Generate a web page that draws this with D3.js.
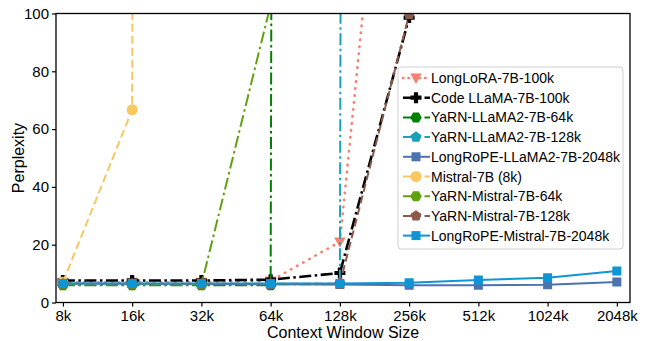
<!DOCTYPE html>
<html lang="en">
<head>
<meta charset="UTF-8">
<title>Perplexity vs context window</title>
<script src="https://cdn.jsdelivr.net/npm/d3@7"></script>
<style>
  body { margin: 0; background: #fff; }
  svg { font-family: "Liberation Sans", Arial, sans-serif; }
</style>
</head>
<body>
<script>
  // context sizes (k tokens)
  const contexts = [8, 16, 32, 64, 128, 256, 512, 1024, 2048];
  const tickLabels = ["8k", "16k", "32k", "64k", "128k", "256k", "512k", "1024k", "2048k"];
  const yTicks = [0, 20, 40, 60, 80, 100];

  // perplexity per model (huge values run off the top)
  const longLora = [7.0, 7.0, 7.0, 7.5, 21, 260];
  const codeLlama = [7.6, 7.6, 7.6, 7.9, 10.2, 98.6];
  const yarnLlama64 = [6.0, 6.0, 6.0, 6.0, 10000];
  const yarnLlama128 = [6.3, 6.3, 6.3, 6.3, 6.3, 10000];
  const longropeLlama = [6.6, 6.5, 6.4, 6.3, 6.2, 6.0, 6.0, 6.1, 7.1];
  const mistral = [7.0, 66.7, 10000];
  const yarnMistral64 = [6.2, 6.2, 6.2, 103];
  const yarnMistral128 = [6.5, 6.5, 6.5, 6.5, 6.5, 99.6];
  const longropeMistral = [6.6, 6.6, 6.6, 6.6, 6.6, 6.8, 7.8, 8.6, 10.9];

  const DOT = "0.5,6.5", DASH = "8,4", DASHDOT = "12,3.5,2.5,3.5";

  const series = [
    { name: "LongLoRA-7B-100k", values: longLora, color: "#fa8072", dash: DOT, width: 2.6, marker: "triDown" },
    { name: "Code LLaMA-7B-100k", values: codeLlama, color: "#000000", dash: DASHDOT, width: 2.6, marker: "plus" },
    { name: "YaRN-LLaMA2-7B-64k", values: yarnLlama64, color: "#008000", dash: DASHDOT, width: 2, marker: "hex" },
    { name: "YaRN-LLaMA2-7B-128k", values: yarnLlama128, color: "#17a2b8", dash: DASHDOT, width: 2, marker: "pent" },
    { name: "LongRoPE-LLaMA2-7B-2048k", values: longropeLlama, color: "#4c72b0", dash: null, width: 2, marker: "square" },
    { name: "Mistral-7B (8k)", values: mistral, color: "#f6c85f", dash: DASH, width: 2, marker: "circle" },
    { name: "YaRN-Mistral-7B-64k", values: yarnMistral64, color: "#5fa10e", dash: DASHDOT, width: 2, marker: "hex" },
    { name: "YaRN-Mistral-7B-128k", values: yarnMistral128, color: "#8c5a4b", dash: DASH, width: 2, marker: "pent" },
    { name: "LongRoPE-Mistral-7B-2048k", values: longropeMistral, color: "#0f95d3", dash: null, width: 2, marker: "square" }
  ];

  const W = 646, H = 341;
  const plot = { left: 56, right: 630, top: 13.5, bottom: 302.5 };

  const svg = d3.select("body").append("svg")
    .attr("width", W)
    .attr("height", H);

  // log2 x axis, a little padding each side like matplotlib
  const x = d3.scaleLog().base(2)
    .domain([8 * Math.pow(2, -0.1), 8 * Math.pow(2, 8.19)])
    .range([plot.left, plot.right]);
  const y = d3.scaleLinear().domain([0, 100]).range([plot.bottom, plot.top]);

  svg.append("defs").append("clipPath").attr("id", "clip")
    .append("rect")
    .attr("x", plot.left).attr("y", plot.top)
    .attr("width", plot.right - plot.left).attr("height", plot.bottom - plot.top);

  function markerPath(type, s) {
    const r = s / 2;
    if (type === "circle") return d3.symbol(d3.symbolCircle, Math.PI * r * r)();
    if (type === "square") return `M${-r},${-r}H${r}V${r}H${-r}Z`;
    if (type === "triDown") return `M${-r * 1.05},${-r * 0.8}L${r * 1.05},${-r * 0.8}L0,${r * 1.1}Z`;
    if (type === "plus") {
      const a = r * 0.38;
      return `M${-a},${-r}H${a}V${-a}H${r}V${a}H${a}V${r}H${-a}V${a}H${-r}V${-a}H${-a}Z`;
    }
    const n = type === "hex" ? 6 : 5;
    const pts = d3.range(n).map(i => {
      const ang = -Math.PI / 2 + i * 2 * Math.PI / n + (n === 6 ? Math.PI / 6 : 0);
      return [Math.cos(ang) * r * 1.05, Math.sin(ang) * r * 1.05];
    });
    return "M" + pts.map(p => p.join(",")).join("L") + "Z";
  }

  const line = d3.line()
    .x(d => x(d.c))
    .y(d => y(d.v));

  const g = svg.append("g").attr("clip-path", "url(#clip)");

  series.forEach(s => {
    const pts = s.values.map((v, i) => ({ c: contexts[i], v: v }));
    g.append("path")
      .datum(pts)
      .attr("d", line)
      .attr("fill", "none")
      .attr("stroke", s.color)
      .attr("stroke-width", s.width)
      .attr("stroke-dasharray", s.dash)
      .attr("stroke-linecap", s.dash === DOT ? "round" : "butt");
    g.selectAll(null)
      .data(pts.filter(d => d.v <= 110))
      .enter().append("path")
      .attr("transform", d => `translate(${x(d.c)},${y(d.v)})`)
      .attr("d", markerPath(s.marker, s.marker === "square" ? 9 : 11))
      .attr("fill", s.color);
  });

  // frame
  svg.append("rect")
    .attr("x", plot.left).attr("y", plot.top)
    .attr("width", plot.right - plot.left).attr("height", plot.bottom - plot.top)
    .attr("fill", "none").attr("stroke", "#000").attr("stroke-width", 1.3);

  // axes
  const xAxis = svg.append("g")
    .attr("transform", `translate(0,${plot.bottom})`)
    .call(d3.axisBottom(x).tickValues(contexts).tickFormat((d, i) => tickLabels[i]).tickSize(4).tickPadding(4));
  const yAxis = svg.append("g")
    .attr("transform", `translate(${plot.left},0)`)
    .call(d3.axisLeft(y).tickValues(yTicks).tickSize(4).tickPadding(3));
  [xAxis, yAxis].forEach(a => {
    a.select(".domain").remove();
    a.selectAll("line").attr("stroke", "#000").attr("stroke-width", 1.2);
    a.selectAll("text").attr("font-size", 15).attr("fill", "#000")
      .attr("font-family", "'Liberation Sans', Arial, sans-serif");
  });

  svg.append("text")
    .attr("x", 343).attr("y", 338)
    .attr("text-anchor", "middle")
    .attr("font-size", 16)
    .text("Context Window Size");
  svg.append("text")
    .attr("transform", `translate(24,${(plot.top + plot.bottom) / 2}) rotate(-90)`)
    .attr("text-anchor", "middle")
    .attr("font-size", 16)
    .text("Perplexity");

  // legend
  const lg = svg.append("g").attr("transform", "translate(398,67)");
  lg.append("rect")
    .attr("width", 225).attr("height", 182).attr("rx", 3)
    .attr("fill", "#fff").attr("fill-opacity", 0.85)
    .attr("stroke", "#d0d0d0").attr("stroke-width", 1);
  series.forEach((s, i) => {
    const row = lg.append("g").attr("transform", `translate(0,${11 + i * 19.7})`);
    row.append("line")
      .attr("x1", 5).attr("x2", 32)
      .attr("stroke", s.color)
      .attr("stroke-width", s.width)
      .attr("stroke-dasharray", s.dash === DOT ? "0.5,5" : (s.dash ? DASHDOT : null))
      .attr("stroke-linecap", s.dash === DOT ? "round" : "butt");
    row.append("path")
      .attr("transform", "translate(18,0)")
      .attr("d", markerPath(s.marker, s.marker === "square" ? 9 : 11))
      .attr("fill", s.color);
    row.append("text")
      .attr("x", 33).attr("y", 5)
      .attr("font-size", 14)
      .text(s.name);
  });
</script>
</body>
</html>
